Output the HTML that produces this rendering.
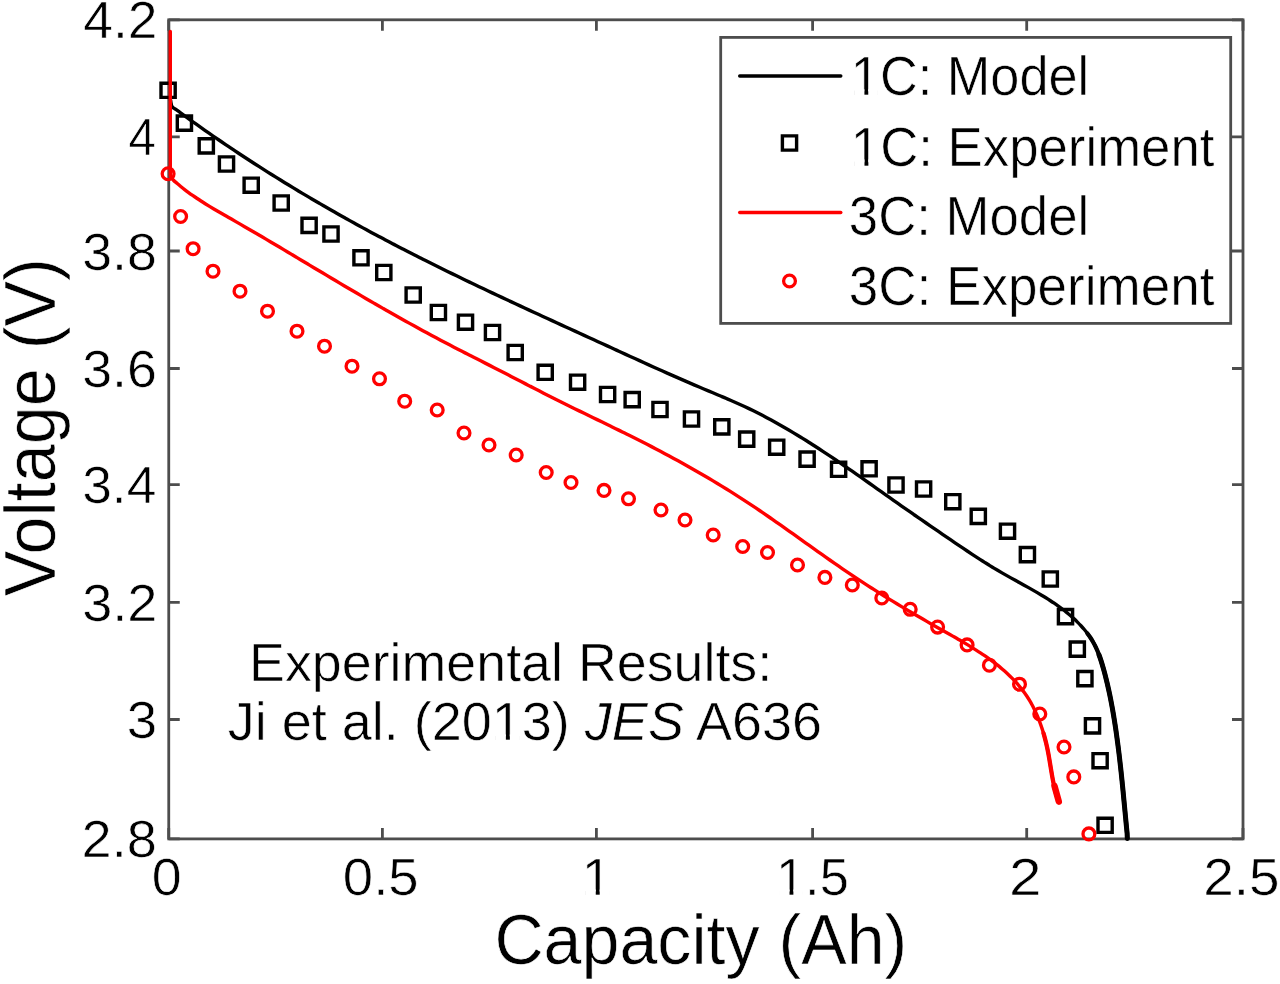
<!DOCTYPE html>
<html><head><meta charset="utf-8"><style>html,body{margin:0;padding:0;background:#fff;overflow:hidden}svg{display:block}text{font-family:"Liberation Sans",sans-serif}</style></head><body>
<svg width="1280" height="984" viewBox="0 0 1280 984" font-family="Liberation Sans, sans-serif">
<rect x="0" y="0" width="1280" height="984" fill="#fff"/>
<g>
<path d="M168.75,838.9V827.9M168.75,19.8V30.8M382.4,838.9V827.9M382.4,19.8V30.8M596.4,838.9V827.9M596.4,19.8V30.8M812.6,838.9V827.9M812.6,19.8V30.8M1026.7,838.9V827.9M1026.7,19.8V30.8M1243,838.9V827.9M1243,19.8V30.8M168.75,19.8H179.75M1243,19.8H1232M168.75,136.9H179.75M1243,136.9H1232M168.75,251H179.75M1243,251H1232M168.75,368.5H179.75M1243,368.5H1232M168.75,484.7H179.75M1243,484.7H1232M168.75,602.3H179.75M1243,602.3H1232M168.75,719.5H179.75M1243,719.5H1232M168.75,838.9H179.75M1243,838.9H1232" stroke="#4d4d4d" stroke-width="2.8" fill="none"/>
<rect x="168.75" y="19.8" width="1074.25" height="819.1" fill="none" stroke="#4d4d4d" stroke-width="2.8"/>
<path d="M170.5,100 C171.0667,102.2667 171.0717,105.1576 172.2,106.8 C173.1424,108.1718 174.8685,108.6496 176.2027,109.6089 C177.5592,110.5843 178.9141,111.6097 180.2722,112.6064 C181.6302,113.6028 182.9897,114.5968 184.3509,115.5882 C185.7119,116.5795 187.0745,117.5682 188.4387,118.5545 C189.8027,119.5406 191.1683,120.5242 192.5355,121.5053 C193.9025,122.4862 195.2711,123.4647 196.6413,124.4407 C198.0112,125.4166 199.3828,126.3899 200.7559,127.3608 C202.1288,128.3316 203.5033,129.2999 204.8794,130.2658 C206.2552,131.2315 207.6326,132.1947 209.0115,133.1556 C210.3903,134.1163 211.7706,135.0745 213.1524,136.0304 C214.534,136.9861 215.9171,137.9393 217.3018,138.8902 C218.6862,139.8409 220.0722,140.7893 221.4597,141.7352 C222.8469,142.681 224.2357,143.6244 225.626,144.5654 C227.0161,145.5063 228.4076,146.4448 229.8007,147.381 C231.1935,148.317 232.5878,149.2507 233.9836,150.182 C235.3792,151.1131 236.7763,152.042 238.1748,152.9684 C239.5731,153.8948 240.9729,154.8188 242.3741,155.7405 C243.7751,156.6621 245.1775,157.5813 246.5814,158.4982 C247.9851,159.4151 249.3902,160.3296 250.7967,161.2418 C252.203,162.1539 253.6108,163.0636 255.0199,163.9711 C256.4289,164.8785 257.8392,165.7836 259.2509,166.6864 C260.6625,167.5892 262.0755,168.4896 263.4897,169.3878 C264.9039,170.2859 266.3194,171.1817 267.7362,172.0752 C269.1529,172.9687 270.5709,173.8599 271.9903,174.7489 C273.4095,175.6378 274.83,176.5245 276.2519,177.4089 C277.6736,178.2932 279.0966,179.1754 280.5209,180.0553 C281.9451,180.9351 283.3706,181.8127 284.7973,182.6881 C286.224,183.5634 287.6519,184.4365 289.0811,185.3075 C290.5101,186.1784 291.9405,187.047 293.372,187.9135 C294.8035,188.78 296.2362,189.6442 297.6701,190.5063 C299.1039,191.3683 300.539,192.2282 301.9753,193.0859 C303.4115,193.9436 304.8489,194.7991 306.2875,195.6524 C307.726,196.5058 309.1657,197.3569 310.6066,198.206 C312.0474,199.055 313.4894,199.9018 314.9325,200.7466 C316.3756,201.5913 317.8199,202.4339 319.2653,203.2744 C320.7106,204.1148 322.1571,204.9532 323.6047,205.7895 C325.0523,206.6257 326.501,207.4598 327.9508,208.2919 C329.4005,209.1239 330.8514,209.9539 332.3034,210.7818 C333.7553,211.6096 335.2083,212.4354 336.6625,213.2592 C338.1165,214.0829 339.5717,214.9045 341.028,215.7242 C342.4842,216.5438 343.9414,217.3614 345.3998,218.1769 C346.8581,218.9924 348.3174,219.8059 349.7779,220.6175 C351.2382,221.4289 352.6996,222.2384 354.1621,223.0459 C355.6245,223.8533 357.088,224.6588 358.5525,225.4623 C360.0169,226.2657 361.4824,227.0672 362.9488,227.8667 C364.4153,228.6662 365.8827,229.4637 367.3512,230.2593 C368.8195,231.0549 370.289,231.8485 371.7594,232.6402 C373.2297,233.4318 374.701,234.2216 376.1734,235.0094 C377.6456,235.7971 379.1189,236.583 380.5931,237.367 C382.0673,238.1509 383.5424,238.9329 385.0185,239.7131 C386.4945,240.4932 387.9715,241.2714 389.4494,242.0477 C390.9273,242.8241 392.4061,243.5985 393.8859,244.3711 C395.3656,245.1437 396.8462,245.9144 398.3278,246.6833 C399.8093,247.4521 401.2917,248.2191 402.775,248.9843 C404.2583,249.7494 405.7425,250.5128 407.2275,251.2744 C408.7126,252.0359 410.1985,252.7957 411.6852,253.5538 C413.172,254.3119 414.6596,255.0683 416.1481,255.823 C417.6365,256.5777 419.1259,257.3307 420.616,258.0822 C422.1061,258.8336 423.5971,259.5834 425.0888,260.3317 C426.5806,261.0799 428.0732,261.8266 429.5666,262.5718 C431.06,263.317 432.5542,264.0606 434.0492,264.8028 C435.5442,265.5451 437.04,266.2858 438.5366,267.0251 C440.0331,267.7645 441.5305,268.5024 443.0286,269.2389 C444.5267,269.9755 446.0256,270.7107 447.5252,271.4446 C449.0249,272.1785 450.5253,272.9111 452.0264,273.6424 C453.5275,274.3738 455.0294,275.1039 456.532,275.8327 C458.0346,276.5617 459.538,277.2893 461.0419,278.0158 C462.546,278.7424 464.0508,279.4677 465.5562,280.192 C467.0617,280.9163 468.5679,281.6394 470.0747,282.3615 C471.5817,283.0837 473.0892,283.8047 474.5974,284.5248 C476.1057,285.2449 477.6146,285.964 479.1241,286.6821 C480.6338,287.4002 482.144,288.1174 483.6548,288.8336 C485.1658,289.55 486.6774,290.2653 488.1895,290.9798 C489.7018,291.6944 491.2146,292.4081 492.728,293.121 C494.2416,293.8339 495.7557,294.546 497.2703,295.2574 C498.7851,295.9688 500.3005,296.6794 501.8163,297.3893 C503.3323,298.0993 504.8489,298.8085 506.3659,299.5171 C507.8831,300.2257 509.4009,300.9337 510.9191,301.641 C512.4375,302.3485 513.9564,303.0552 515.4757,303.7614 C516.9953,304.4678 518.5153,305.1735 520.0357,305.8786 C521.5564,306.584 523.0776,307.2887 524.5991,307.9929 C526.1209,308.6973 527.6431,309.4012 529.1657,310.1046 C530.6886,310.8082 532.2119,311.5113 533.7355,312.214 C535.2595,312.9169 536.7838,313.6193 538.3084,314.3214 C539.8334,315.0237 541.3587,315.7255 542.8843,316.4271 C544.4103,317.1289 545.9366,317.8303 547.4632,318.5315 C548.9902,319.2328 550.5174,319.9339 552.045,320.6348 C553.5729,321.3358 555.1011,322.0366 556.6295,322.7373 C558.1583,323.4382 559.6874,324.1388 561.2168,324.8394 C562.7465,325.5401 564.2765,326.2407 565.8067,326.9413 C567.3373,327.6421 568.8682,328.3427 570.3992,329.0434 C571.9307,329.7443 573.4623,330.4451 574.9942,331.146 C576.5265,331.8471 578.059,332.5482 579.5917,333.2494 C581.1247,333.9508 582.658,334.6522 584.1914,335.3539 C585.7253,336.0557 587.2593,336.7576 588.7935,337.4597 C590.3281,338.1621 591.8629,338.8646 593.3978,339.5673 C594.9331,340.2703 596.4685,340.9734 598.0041,341.6769 C599.5402,342.3806 601.0763,343.0846 602.6126,343.7888 C604.1492,344.4932 605.686,345.1979 607.2228,345.9027 C608.7599,346.6075 610.2972,347.3126 611.8345,348.0175 C613.372,348.7225 614.9096,349.4276 616.4473,350.1323 C617.985,350.8371 619.5228,351.5418 621.0607,352.2461 C622.5986,352.9504 624.1365,353.6544 625.6745,354.3579 C627.2123,355.0613 628.7502,355.7643 630.2882,356.4666 C631.8259,357.1688 633.3636,357.8705 634.9015,358.5713 C636.4388,359.272 637.9763,359.972 639.5139,360.671 C641.0509,361.3697 642.588,362.0678 644.1251,362.7646 C645.6616,363.4612 647.1981,364.1568 648.7347,364.8512 C650.2706,365.5452 651.8064,366.2382 653.3424,366.9297 C654.8774,367.6208 656.4126,368.3108 657.9477,368.9991 C659.4819,369.687 661.0161,370.3736 662.5503,371.0585 C664.0834,371.7429 665.6166,372.4258 667.1498,373.1068 C668.6818,373.7873 670.2138,374.4662 671.7458,375.143 C673.2765,375.8193 674.8072,376.4938 676.338,377.1662 C677.8673,377.8379 679.3966,378.5078 680.9259,379.1753 C682.4537,379.8421 683.9814,380.5069 685.5092,381.1692 C687.0353,381.8309 688.5614,382.4903 690.0875,383.1471 C691.6118,383.8032 693.1361,384.4569 694.6604,385.1079 C696.1828,385.7581 697.7052,386.4057 699.2276,387.0506 C700.748,387.6946 702.2685,388.3353 703.7886,388.9748 C705.307,389.6135 706.8254,390.2491 708.3431,390.8851 C709.8595,391.5205 711.3756,392.1539 712.8907,392.7888 C714.4049,393.4232 715.9186,394.0568 717.4311,394.693 C718.943,395.329 720.4541,395.9652 721.9638,396.6051 C723.4732,397.2449 724.9817,397.8862 726.4884,398.5322 C727.9953,399.1783 729.501,399.827 731.0047,400.4816 C732.5089,401.1364 734.0117,401.7949 735.5122,402.4604 C737.0136,403.1263 738.5133,403.7971 740.0104,404.4759 C741.509,405.1554 743.0055,405.8408 744.4992,406.5354 C745.9947,407.2308 747.4879,407.9335 748.978,408.646 C750.4704,409.3596 751.9599,410.0823 753.4465,410.8137 C754.9354,411.5463 756.4213,412.2883 757.9043,413.0383 C759.3895,413.7894 760.8717,414.5494 762.3511,415.3171 C763.8324,416.0859 765.3108,416.8633 766.7864,417.6479 C768.2638,418.4336 769.7383,419.2275 771.2099,420.0283 C772.6832,420.83 774.1536,421.6395 775.6211,422.4557 C777.0903,423.2727 778.5565,424.0971 780.0198,424.9278 C781.4846,425.7592 782.9465,426.5977 784.4056,427.4421 C785.8659,428.2872 787.3233,429.139 788.778,429.9963 C790.2337,430.8542 791.6865,431.7184 793.1366,432.5878 C794.5876,433.4578 796.0358,434.3336 797.4812,435.2144 C798.9273,436.0955 800.3707,436.9822 801.8113,437.8735 C803.2524,438.765 804.6908,439.6617 806.1266,440.5627 C807.5626,441.4638 808.9959,442.3698 810.4266,443.2796 C811.8573,444.1895 813.2854,445.1039 814.7109,446.0219 C816.1363,446.9397 817.5591,447.8617 818.9793,448.787 C820.3992,449.712 821.8165,450.6408 823.2313,451.5725 C824.6456,452.5039 826.0573,453.4387 827.4666,454.3761 C828.8751,455.313 830.2811,456.253 831.6847,457.1953 C833.0875,458.137 834.4877,459.0814 835.8858,460.028 C837.283,460.9739 838.6779,461.9224 840.0708,462.8727 C841.4628,463.8224 842.8526,464.7744 844.2407,465.728 C845.6279,466.681 847.0131,467.6361 848.3966,468.5925 C849.7794,469.5483 851.1602,470.506 852.5397,471.4648 C853.9183,472.423 855.2951,473.3828 856.6708,474.3435 C858.0456,475.3036 859.4189,476.265 860.7911,477.2271 C862.1626,478.1887 863.5326,479.1513 864.9017,480.1143 C866.2701,481.0768 867.6372,482.0402 869.0036,483.0037 C870.3693,483.9667 871.7339,484.9303 873.0979,485.8938 C874.4612,486.8568 875.8236,487.8202 877.1856,488.7833 C878.5469,489.7458 879.9074,490.7085 881.2678,491.6707 C882.6274,492.6323 883.9865,493.5938 885.3456,494.5546 C886.7039,495.5148 888.0618,496.4747 889.4199,497.4336 C890.7773,498.392 892.1344,499.3498 893.4919,500.3063 C894.8487,501.2623 896.2054,502.2176 897.5627,503.1713 C898.9192,504.1245 900.2759,505.0766 901.6332,506.0272 C902.9899,506.9774 904.347,507.9262 905.7046,508.8739 C907.0619,509.8212 908.4196,510.7673 909.7779,511.7124 C911.1361,512.6574 912.4948,513.6013 913.8542,514.5443 C915.2136,515.4874 916.5737,516.4295 917.9345,517.371 C919.2956,518.3126 920.6573,519.2534 922.0199,520.1937 C923.3829,521.1343 924.7467,522.0742 926.1114,523.0138 C927.4768,523.9539 928.843,524.8934 930.2101,525.8327 C931.5782,526.7728 932.9472,527.7123 934.3171,528.6519 C935.6883,529.5923 937.0603,530.5323 938.4334,531.4726 C939.808,532.4138 941.1835,533.3548 942.5601,534.2962 C943.9384,535.2387 945.3177,536.1812 946.6983,537.1241 C948.0807,538.0683 949.464,539.0131 950.8489,539.9576 C952.2357,540.9033 953.6234,541.8497 955.0131,542.7947 C956.4044,543.7408 957.7971,544.6869 959.192,545.6309 C960.5882,546.5758 961.9861,547.5199 963.3865,548.4612 C964.788,549.4033 966.1914,550.3439 967.5977,551.2809 C969.0049,552.2184 970.4143,553.1538 971.8268,554.0849 C973.2399,555.0164 974.6556,555.945 976.0747,556.8686 C977.4942,557.7924 978.9165,558.7125 980.3425,559.6269 C981.7687,560.5414 983.1981,561.4516 984.6313,562.3551 C986.0646,563.2587 987.5013,564.1572 988.9422,565.0484 C990.3829,565.9395 991.8273,566.8247 993.2761,567.7018 C994.7246,568.5787 996.1771,569.449 997.6342,570.3105 C999.0909,571.1717 1000.5523,572.0244 1002.0174,572.8699 C1003.4819,573.715 1004.9517,574.5506 1006.423,575.3823 C1007.8938,576.2136 1009.3685,577.0372 1010.8437,577.8588 C1012.3182,578.6801 1013.7954,579.4955 1015.2719,580.3111 C1016.7475,581.1262 1018.2248,581.9374 1019.7001,582.7508 C1021.1744,583.5636 1022.6491,584.3745 1024.1207,585.1895 C1025.591,586.0038 1027.0607,586.8183 1028.526,587.6388 C1029.99,588.4586 1031.4521,589.2805 1032.9086,590.1104 C1034.3638,590.9395 1035.8158,591.7727 1037.2609,592.6159 C1038.7047,593.4582 1040.1441,594.3066 1041.5753,595.1669 C1043.0052,596.0263 1044.4295,596.8938 1045.8443,597.775 C1047.2578,598.6555 1048.6645,599.5459 1050.0602,600.452 C1051.4549,601.3574 1052.8415,602.2747 1054.2155,603.2094 C1055.589,604.1436 1056.9528,605.0916 1058.3027,606.0588 C1059.6524,607.0258 1060.9911,608.0084 1062.3141,609.0118 C1063.6376,610.0156 1064.9486,611.0367 1066.2422,612.0802 C1067.537,613.1246 1068.8178,614.1882 1070.0795,615.2755 C1071.3432,616.3645 1072.5911,617.4744 1073.8183,618.6093 C1075.0484,619.7469 1076.2618,620.9073 1077.451,622.0933 C1078.6431,623.2823 1079.8187,624.4957 1080.9619,625.7345 C1082.1051,626.9734 1083.2274,628.2371 1084.3102,629.5262 C1085.3902,630.8121 1086.4438,632.123 1087.4507,633.4592 C1088.4528,634.7893 1089.4227,636.1444 1090.3382,637.5243 C1091.2481,638.8957 1092.114,640.2934 1092.9287,641.7123 C1093.7391,643.1235 1094.4964,644.5608 1095.2151,646.0139 C1095.932,647.4635 1096.5997,648.9354 1097.236,650.42 C1097.8722,651.9045 1098.4647,653.4079 1099.0327,654.9214 C1099.6017,656.4374 1100.1328,657.9691 1100.6465,659.5088 C1101.1617,661.0529 1101.6455,662.6098 1102.1188,664.173 C1102.5938,665.7418 1103.0455,667.3208 1103.4909,668.9048 C1103.9379,670.4951 1104.3714,672.0929 1104.7956,673.6959 C1105.2213,675.3046 1105.6357,676.92 1106.0403,678.5401 C1106.4462,680.1653 1106.8413,681.7965 1107.2271,683.4318 C1107.614,685.0717 1107.9906,686.7169 1108.3584,688.3656 C1108.727,690.0181 1109.0858,691.6754 1109.4363,693.3357 C1109.7874,694.9991 1110.1292,696.6667 1110.4631,698.3367 C1110.7975,700.0091 1111.123,701.685 1111.4411,703.3628 C1111.7595,705.0424 1112.0695,706.7249 1112.3725,708.4087 C1112.6756,710.0935 1112.9709,711.7807 1113.2596,713.4686 C1113.5483,715.1568 1113.8295,716.8468 1114.1046,718.537 C1114.3795,720.2266 1114.6475,721.9176 1114.9098,723.6083 C1115.1718,725.2976 1115.4272,726.9876 1115.6774,728.6769 C1115.9272,730.3639 1116.1709,732.0512 1116.4097,733.7372 C1116.6481,735.4202 1116.8807,737.1029 1117.1089,738.7837 C1117.3366,740.4607 1117.559,742.1367 1117.7774,743.8108 C1117.9951,745.4803 1118.2081,747.1481 1118.4173,748.8145 C1118.6259,750.4769 1118.8301,752.1375 1119.0308,753.7971 C1119.2311,755.4532 1119.4273,757.1078 1119.6204,758.7616 C1119.8131,760.4126 1120.002,762.0623 1120.1881,763.7114 C1120.374,765.3583 1120.5564,767.0041 1120.7363,768.6497 C1120.916,770.2935 1121.0927,771.9366 1121.2672,773.5797 C1121.4416,775.2216 1121.6132,776.8631 1121.7831,778.5047 C1121.9528,780.1458 1122.1202,781.7866 1122.2861,783.4279 C1122.4521,785.0693 1122.6159,786.7106 1122.7787,788.3526 C1122.9415,789.9953 1123.1026,791.6382 1123.2629,793.282 C1123.4234,794.9271 1123.5825,796.5726 1123.7412,798.2194 C1123.9,799.868 1124.0578,801.5173 1124.2156,803.168 C1124.3736,804.8211 1124.5309,806.4752 1124.6886,808.1311 C1124.8465,809.7898 1125.004,811.4499 1125.1622,813.1118 C1125.3208,814.7773 1125.4793,816.4443 1125.6389,818.1136 C1125.7988,819.7869 1125.9591,821.4619 1126.1208,823.1395 C1126.2829,824.8217 1126.4457,826.5059 1126.6102,828.1928 C1126.7752,829.885 1126.9943,831.5772 1127.1093,833.2768 C1127.2244,834.9795 1127.2364,836.6923 1127.3,838.4" stroke="#000" stroke-width="3.4" fill="none" stroke-linejoin="round" stroke-linecap="round"/>
<path d="M1087.4507,633.4592 C1088.4528,634.7893 1089.4227,636.1444 1090.3382,637.5243 C1091.2481,638.8957 1092.114,640.2934 1092.9287,641.7123 C1093.7391,643.1235 1094.4964,644.5608 1095.2151,646.0139 C1095.932,647.4635 1096.5997,648.9354 1097.236,650.42 C1097.8722,651.9045 1098.4647,653.4079 1099.0327,654.9214 C1099.6017,656.4374 1100.1328,657.9691 1100.6465,659.5088 C1101.1617,661.0529 1101.6455,662.6098 1102.1188,664.173 C1102.5938,665.7418 1103.0455,667.3208 1103.4909,668.9048 C1103.9379,670.4951 1104.3714,672.0929 1104.7956,673.6959 C1105.2213,675.3046 1105.6357,676.92 1106.0403,678.5401 C1106.4462,680.1653 1106.8413,681.7965 1107.2271,683.4318 C1107.614,685.0717 1107.9906,686.7169 1108.3584,688.3656 C1108.727,690.0181 1109.0858,691.6754 1109.4363,693.3357 C1109.7874,694.9991 1110.1292,696.6667 1110.4631,698.3367 C1110.7975,700.0091 1111.123,701.685 1111.4411,703.3628 C1111.7595,705.0424 1112.0695,706.7249 1112.3725,708.4087 C1112.6756,710.0935 1112.9709,711.7807 1113.2596,713.4686 C1113.5483,715.1568 1113.8295,716.8468 1114.1046,718.537 C1114.3795,720.2266 1114.6475,721.9176 1114.9098,723.6083 C1115.1718,725.2976 1115.4272,726.9876 1115.6774,728.6769 C1115.9272,730.3639 1116.1709,732.0512 1116.4097,733.7372 C1116.6481,735.4202 1116.8807,737.1029 1117.1089,738.7837 C1117.3366,740.4607 1117.559,742.1367 1117.7774,743.8108 C1117.9951,745.4803 1118.2081,747.1481 1118.4173,748.8145 C1118.6259,750.4769 1118.8301,752.1375 1119.0308,753.7971 C1119.2311,755.4532 1119.4273,757.1078 1119.6204,758.7616 C1119.8131,760.4126 1120.002,762.0623 1120.1881,763.7114 C1120.374,765.3583 1120.5564,767.0041 1120.7363,768.6497 C1120.916,770.2935 1121.0927,771.9366 1121.2672,773.5797 C1121.4416,775.2216 1121.6132,776.8631 1121.7831,778.5047 C1121.9528,780.1458 1122.1202,781.7866 1122.2861,783.4279 C1122.4521,785.0693 1122.6159,786.7106 1122.7787,788.3526 C1122.9415,789.9953 1123.1026,791.6382 1123.2629,793.282 C1123.4234,794.9271 1123.5825,796.5726 1123.7412,798.2194 C1123.9,799.868 1124.0578,801.5173 1124.2156,803.168 C1124.3736,804.8211 1124.5309,806.4752 1124.6886,808.1311 C1124.8465,809.7898 1125.004,811.4499 1125.1622,813.1118 C1125.3208,814.7773 1125.4793,816.4443 1125.6389,818.1136 C1125.7988,819.7869 1125.9591,821.4619 1126.1208,823.1395 C1126.2829,824.8217 1126.4457,826.5059 1126.6102,828.1928 C1126.7752,829.885 1126.9943,831.5772 1127.1093,833.2768 C1127.2244,834.9795 1127.2364,836.6923 1127.3,838.4" stroke="#000" stroke-width="4.2" fill="none" stroke-linecap="round" stroke-linejoin="round"/>
<path d="M1099.0327,654.9214 C1099.6017,656.4374 1100.1328,657.9691 1100.6465,659.5088 C1101.1617,661.0529 1101.6455,662.6098 1102.1188,664.173 C1102.5938,665.7418 1103.0455,667.3208 1103.4909,668.9048 C1103.9379,670.4951 1104.3714,672.0929 1104.7956,673.6959 C1105.2213,675.3046 1105.6357,676.92 1106.0403,678.5401 C1106.4462,680.1653 1106.8413,681.7965 1107.2271,683.4318 C1107.614,685.0717 1107.9906,686.7169 1108.3584,688.3656 C1108.727,690.0181 1109.0858,691.6754 1109.4363,693.3357 C1109.7874,694.9991 1110.1292,696.6667 1110.4631,698.3367 C1110.7975,700.0091 1111.123,701.685 1111.4411,703.3628 C1111.7595,705.0424 1112.0695,706.7249 1112.3725,708.4087 C1112.6756,710.0935 1112.9709,711.7807 1113.2596,713.4686 C1113.5483,715.1568 1113.8295,716.8468 1114.1046,718.537 C1114.3795,720.2266 1114.6475,721.9176 1114.9098,723.6083 C1115.1718,725.2976 1115.4272,726.9876 1115.6774,728.6769 C1115.9272,730.3639 1116.1709,732.0512 1116.4097,733.7372 C1116.6481,735.4202 1116.8807,737.1029 1117.1089,738.7837 C1117.3366,740.4607 1117.559,742.1367 1117.7774,743.8108 C1117.9951,745.4803 1118.2081,747.1481 1118.4173,748.8145 C1118.6259,750.4769 1118.8301,752.1375 1119.0308,753.7971 C1119.2311,755.4532 1119.4273,757.1078 1119.6204,758.7616 C1119.8131,760.4126 1120.002,762.0623 1120.1881,763.7114 C1120.374,765.3583 1120.5564,767.0041 1120.7363,768.6497 C1120.916,770.2935 1121.0927,771.9366 1121.2672,773.5797 C1121.4416,775.2216 1121.6132,776.8631 1121.7831,778.5047 C1121.9528,780.1458 1122.1202,781.7866 1122.2861,783.4279 C1122.4521,785.0693 1122.6159,786.7106 1122.7787,788.3526 C1122.9415,789.9953 1123.1026,791.6382 1123.2629,793.282 C1123.4234,794.9271 1123.5825,796.5726 1123.7412,798.2194 C1123.9,799.868 1124.0578,801.5173 1124.2156,803.168 C1124.3736,804.8211 1124.5309,806.4752 1124.6886,808.1311 C1124.8465,809.7898 1125.004,811.4499 1125.1622,813.1118 C1125.3208,814.7773 1125.4793,816.4443 1125.6389,818.1136 C1125.7988,819.7869 1125.9591,821.4619 1126.1208,823.1395 C1126.2829,824.8217 1126.4457,826.5059 1126.6102,828.1928 C1126.7752,829.885 1126.9943,831.5772 1127.1093,833.2768 C1127.2244,834.9795 1127.2364,836.6923 1127.3,838.4" stroke="#000" stroke-width="5.0" fill="none" stroke-linecap="round" stroke-linejoin="round"/>
<path d="M161,83.2h14.2v14.2h-14.2zM177.3,116h14.2v14.2h-14.2zM199.2,138.8h14.2v14.2h-14.2zM219.4,156.9h14.2v14.2h-14.2zM244.1,178.1h14.2v14.2h-14.2zM274.1,195.9h14.2v14.2h-14.2zM302,218.3h14.2v14.2h-14.2zM323.9,226.9h14.2v14.2h-14.2zM353.9,250.7h14.2v14.2h-14.2zM376.7,265.4h14.2v14.2h-14.2zM406.1,287.9h14.2v14.2h-14.2zM431.3,305.4h14.2v14.2h-14.2zM458.4,315.1h14.2v14.2h-14.2zM485.4,325.4h14.2v14.2h-14.2zM508.1,345.4h14.2v14.2h-14.2zM538.1,365.2h14.2v14.2h-14.2zM570.5,375.1h14.2v14.2h-14.2zM600.5,387.4h14.2v14.2h-14.2zM625.1,392.5h14.2v14.2h-14.2zM652.9,402.4h14.2v14.2h-14.2zM684.4,411.9h14.2v14.2h-14.2zM714.7,419.8h14.2v14.2h-14.2zM739.6,432h14.2v14.2h-14.2zM769.6,440.1h14.2v14.2h-14.2zM800,452h14.2v14.2h-14.2zM831.5,462.2h14.2v14.2h-14.2zM862,461.7h14.2v14.2h-14.2zM888.9,477.9h14.2v14.2h-14.2zM916.5,481.9h14.2v14.2h-14.2zM945.7,494.6h14.2v14.2h-14.2zM971.2,509.3h14.2v14.2h-14.2zM1000.4,524.1h14.2v14.2h-14.2zM1020.3,547.5h14.2v14.2h-14.2zM1043.2,571.9h14.2v14.2h-14.2zM1058.4,609.5h14.2v14.2h-14.2zM1070.2,642h14.2v14.2h-14.2zM1077.8,671.5h14.2v14.2h-14.2zM1085.4,718.8h14.2v14.2h-14.2zM1093,753.6h14.2v14.2h-14.2zM1098,818.2h14.2v14.2h-14.2z" stroke="#000" stroke-width="3.4" fill="none" stroke-linejoin="miter"/>
<path d="M170.3,31.5 L170.3,176 C171.289,177.3316 172.1565,178.7778 173.267,179.9949 C174.3738,181.208 175.7046,182.2127 176.9494,183.293 C178.1951,184.374 179.4598,185.4346 180.7384,186.4787 C182.0184,187.5239 183.3157,188.5498 184.6254,189.5607 C185.9368,190.5729 187.2639,191.5671 188.602,192.5477 C189.9419,193.5296 191.296,194.495 192.6596,195.4482 C194.0252,196.4029 195.4034,197.3423 196.7897,198.2711 C198.1781,199.2013 199.5776,200.1177 200.984,201.0249 C202.3923,201.9335 203.8102,202.8297 205.2338,203.7184 C206.6591,204.6082 208.0927,205.4872 209.5306,206.3602 C210.9701,207.2341 212.4166,208.0988 213.8661,208.959 C215.3169,209.8199 216.7734,210.6731 218.2317,211.5234 C219.691,212.3742 221.1546,213.2188 222.619,214.0621 C224.0838,214.9057 225.5518,215.7447 227.0193,216.5839 C228.4869,217.4231 229.9564,218.2593 231.4243,219.0973 C232.8918,219.935 234.3597,220.7718 235.8255,221.611 C237.2905,222.4498 238.7543,223.2898 240.2167,224.1312 C241.6784,224.9723 243.1388,225.8147 244.598,226.6584 C246.0564,227.5017 247.5136,228.3463 248.9698,229.1921 C250.4252,230.0374 251.8795,230.8841 253.3328,231.7318 C254.7855,232.5791 256.237,233.4276 257.6876,234.277 C259.1377,235.1261 260.5868,235.9764 262.035,236.8274 C263.4827,237.6782 264.9295,238.53 266.3755,239.3826 C267.8211,240.2348 269.2657,241.088 270.7098,241.9419 C272.1534,242.7956 273.5962,243.65 275.0384,244.5051 C276.4803,245.3599 277.9215,246.2155 279.3621,247.0716 C280.8025,247.9275 282.2422,248.7841 283.6815,249.6411 C285.1206,250.4979 286.559,251.3553 287.9972,252.213 C289.4352,253.0706 290.8726,253.9287 292.3099,254.787 C293.747,255.6452 295.1836,256.5038 296.6201,257.3626 C298.0565,258.2212 299.4926,259.0802 300.9286,259.9392 C302.3646,260.7982 303.8003,261.6575 305.236,262.5166 C306.6717,263.3758 308.1072,264.2351 309.5429,265.0943 C310.9785,265.9535 312.4141,266.8127 313.8499,267.6717 C315.2857,268.5308 316.7216,269.3898 318.1577,270.2486 C319.594,271.1073 321.0303,271.966 322.467,272.8243 C323.9038,273.6827 325.3408,274.5408 326.7783,275.3985 C328.2159,276.2563 329.6538,277.1138 331.0923,277.9707 C332.5309,278.8278 333.97,279.6845 335.4096,280.5406 C336.8495,281.3968 338.2899,282.2525 339.7309,283.1075 C341.1723,283.9627 342.6142,284.8174 344.0569,285.6712 C345.4999,286.5252 346.9435,287.3786 348.388,288.2311 C349.833,289.0838 351.2786,289.9358 352.7251,290.7868 C354.172,291.638 355.6197,292.4884 357.0682,293.3378 C358.5171,294.1874 359.9668,295.036 361.4173,295.8836 C362.8681,296.7313 364.3197,297.578 365.7722,298.4236 C367.225,299.2693 368.6785,300.1139 370.1329,300.9573 C371.5875,301.8007 373.043,302.6431 374.4993,303.4841 C375.9557,304.3252 377.413,305.165 378.8712,306.0035 C380.3295,306.842 381.7886,307.6793 383.2486,308.515 C384.7086,309.3508 386.1695,310.1852 387.6313,311.018 C389.0931,311.8509 390.5557,312.6823 392.0192,313.512 C393.4827,314.3417 394.9471,315.17 396.4123,315.9965 C397.8775,316.8229 399.3435,317.6478 400.8105,318.4708 C402.2773,319.2938 403.745,320.1151 405.2135,320.9345 C406.682,321.7538 408.1513,322.5714 409.6215,323.387 C411.0914,324.2025 412.5623,325.0162 414.0341,325.8279 C415.5056,326.6394 416.978,327.449 418.4513,328.2564 C419.9244,329.0637 421.3983,329.8691 422.8731,330.6722 C424.3476,331.4751 425.823,332.276 427.2993,333.0746 C428.7752,333.873 430.2521,334.6693 431.7298,335.4632 C433.2072,336.2569 434.6854,337.0483 436.1646,337.8374 C437.6432,338.6261 439.1228,339.4126 440.6034,340.1965 C442.0834,340.9802 443.5643,341.7615 445.0462,342.5402 C446.5275,343.3187 448.0098,344.0946 449.493,344.8679 C450.9756,345.6409 452.4591,346.4111 453.9435,347.1794 C455.4274,347.9473 456.9123,348.7126 458.3978,349.4765 C459.8829,350.2402 461.369,351.0016 462.8556,351.762 C464.342,352.5223 465.8292,353.2808 467.3169,354.0386 C468.8046,354.7965 470.2929,355.5529 471.7816,356.309 C473.2705,357.0653 474.7599,357.8205 476.2496,358.5759 C477.7396,359.3315 479.2301,360.0865 480.7208,360.8421 C482.2119,361.5979 483.7034,362.3535 485.195,363.1101 C486.6873,363.867 488.1798,364.6241 489.6722,365.3827 C491.1655,366.1417 492.659,366.9012 494.1523,367.6626 C495.6466,368.4245 497.141,369.1875 498.6351,369.9525 C500.1304,370.7182 501.6256,371.4857 503.1206,372.2547 C504.6168,373.0242 506.1127,373.7956 507.6087,374.5678 C509.1056,375.3404 510.6024,376.1147 512.0992,376.8893 C513.5968,377.6642 515.0944,378.4403 516.5921,379.2164 C518.0904,379.9928 519.5887,380.7699 521.0872,381.5467 C522.5861,382.3236 524.0851,383.1009 525.5845,383.8774 C527.084,384.6539 528.5837,385.4305 530.0838,386.2059 C531.5839,386.9812 533.0842,387.7562 534.5851,388.5295 C536.0857,389.3028 537.5866,390.0752 539.0882,390.8457 C540.5893,391.616 542.0908,392.3851 543.593,393.1519 C545.0946,393.9183 546.5966,394.6831 548.0995,395.4452 C549.6015,396.2069 551.1041,396.9664 552.6074,397.7233 C554.1099,398.4798 555.6131,399.2336 557.1167,399.9854 C558.6196,400.7369 560.1231,401.4858 561.627,402.2331 C563.1301,402.98 564.6338,403.7247 566.1378,404.4679 C567.6412,405.2108 569.145,405.9517 570.649,406.6915 C572.1524,407.4309 573.6561,408.1686 575.16,408.9054 C576.6634,409.6419 578.167,410.377 579.6707,411.1113 C581.1738,411.8455 582.6772,412.5784 584.1805,413.3109 C585.6834,414.0431 587.1864,414.7744 588.6893,415.5056 C590.1917,416.2365 591.6942,416.9668 593.1965,417.6971 C594.6985,418.4273 596.2004,419.157 597.702,419.8871 C599.2033,420.617 600.7045,421.3467 602.2052,422.0771 C603.7058,422.8073 605.2061,423.5376 606.706,424.2687 C608.2057,424.9998 609.7051,425.7311 611.2039,426.4636 C612.7026,427.196 614.201,427.929 615.6986,428.6634 C617.1962,429.3977 618.6934,430.1328 620.1898,430.8696 C621.6862,431.6064 623.182,432.3442 624.677,433.0839 C626.1721,433.8237 627.6665,434.5648 629.16,435.308 C630.6536,436.0512 632.1465,436.7961 633.6384,437.5433 C635.1305,438.2906 636.6217,439.0398 638.1118,439.7916 C639.6022,440.5435 641.0917,441.2975 642.58,442.0544 C644.0686,442.8114 645.5562,443.5708 647.0425,444.3333 C648.5292,445.096 650.0148,445.8614 651.499,446.63 C652.9837,447.3988 654.4672,448.1706 655.9492,448.9455 C657.4317,449.7207 658.9129,450.4989 660.3927,451.2802 C661.8729,452.0618 663.3518,452.8464 664.8292,453.6342 C666.307,454.4223 667.7834,455.2135 669.2583,456.0079 C670.7335,456.8025 672.2074,457.6003 673.6796,458.4013 C675.1522,459.2026 676.6234,460.0071 678.0929,460.8149 C679.5628,461.6228 681.0311,462.4341 682.4978,463.2487 C683.9648,464.0635 685.4302,464.8815 686.8939,465.703 C688.3579,466.5246 689.8202,467.3496 691.2808,468.178 C692.7417,469.0066 694.2009,469.8386 695.6583,470.6741 C697.116,471.5097 698.5719,472.3487 700.026,473.1913 C701.4804,474.034 702.9329,474.8802 704.3835,475.7299 C705.8344,476.5798 707.2835,477.4332 708.7306,478.2902 C710.1779,479.1474 711.6233,480.0081 713.0667,480.8724 C714.5104,481.7369 715.9521,482.605 717.3917,483.4767 C718.8315,484.3486 720.2694,485.2241 721.7051,486.1033 C723.141,486.9827 724.5749,487.8657 726.0066,488.7525 C727.4385,489.6395 728.8683,490.5301 730.2958,491.4245 C731.7236,492.3191 733.1492,493.2174 734.5725,494.1195 C735.996,495.0218 737.4173,495.9279 738.8362,496.8378 C740.2553,497.7479 741.6722,498.6617 743.0866,499.5795 C744.5012,500.4975 745.9136,501.4193 747.3234,502.345 C748.7334,503.2709 750.141,504.2008 751.5462,505.1343 C752.9516,506.068 754.3544,507.0059 755.7552,507.9468 C757.1562,508.8879 758.5547,509.8328 759.9513,510.7805 C761.3481,511.7283 762.7426,512.6796 764.1353,513.6334 C765.5282,514.5872 766.9189,515.5443 768.3082,516.5035 C769.6974,517.4627 771.0847,518.4247 772.4706,519.3887 C773.8566,520.3526 775.2407,521.319 776.6237,522.287 C778.0066,523.2549 779.3879,524.2251 780.7682,525.1965 C782.1483,526.1677 783.527,527.1409 784.9049,528.115 C786.2826,529.089 787.6591,530.0645 789.0349,531.0407 C790.4104,532.0167 791.7849,532.9939 793.1588,533.9714 C794.5325,534.9488 795.9053,535.927 797.2777,536.9053 C798.6498,537.8832 800.0212,538.8618 801.3924,539.8401 C802.7632,540.8181 804.1335,541.7964 805.5038,542.774 C806.8735,543.7513 808.243,544.7286 809.6126,545.7049 C810.9817,546.6808 812.3506,547.6565 813.7199,548.6308 C815.0886,549.6047 816.4573,550.578 817.8265,551.5497 C819.195,552.5209 820.5638,553.4912 821.9332,554.4596 C823.3019,555.4275 824.671,556.394 826.041,557.3584 C827.4102,558.3222 828.7799,559.2845 830.1507,560.2442 C831.5206,561.2033 832.8912,562.1605 834.2631,563.1149 C835.6341,564.0686 837.0059,565.0202 838.3792,565.9685 C839.7515,566.9162 841.1249,567.8614 842.4998,568.8031 C843.8738,569.744 845.2489,570.6821 846.6258,571.6165 C848.0017,572.55 849.379,573.4803 850.7581,574.4067 C852.1362,575.3325 853.516,576.2545 854.8976,577.173 C856.2783,578.091 857.6607,579.0053 859.045,579.9162 C860.4287,580.8268 861.8141,581.7338 863.2014,582.6376 C864.5882,583.5411 865.9769,584.4412 867.3675,585.3383 C868.7578,586.2351 870.15,587.1287 871.5442,588.0193 C872.9384,588.91 874.3344,589.7974 875.7325,590.682 C877.1307,591.5668 878.5309,592.4485 879.9331,593.3275 C881.3357,594.2068 882.7403,595.0831 884.147,595.9569 C885.5543,596.831 886.9636,597.7024 888.375,598.5714 C889.7873,599.4408 891.2016,600.3076 892.6181,601.1721 C894.0356,602.0372 895.4552,602.8997 896.877,603.7602 C898.3,604.6213 899.7252,605.4801 901.1526,606.3368 C902.5815,607.1944 904.0126,608.0498 905.4459,608.9032 C906.8809,609.7577 908.3181,610.6099 909.7577,611.4605 C911.1991,612.3121 912.6428,613.1618 914.0889,614.0098 C915.537,614.859 916.9874,615.7064 918.4403,616.5523 C919.8954,617.3995 921.3529,618.245 922.8128,619.0892 C924.2752,619.9347 925.74,620.7787 927.2073,621.6215 C928.6773,622.4659 930.1497,623.3087 931.6247,624.1506 C933.1026,624.994 934.583,625.8361 936.0658,626.6775 C937.5517,627.5205 939.0408,628.3617 940.5308,629.2037 C942.0233,630.0472 943.5187,630.8895 945.0135,631.7341 C946.5101,632.5798 948.0084,633.4255 949.5049,634.2748 C951.0026,635.1247 952.5008,635.9759 953.996,636.8319 C955.4917,637.6882 956.9868,638.5469 958.4778,639.4118 C959.9685,640.2765 961.4575,641.1448 962.9411,642.0205 C964.424,642.8957 965.9038,643.7757 967.3771,644.6643 C968.849,645.5521 970.3167,646.4459 971.7766,647.3495 C973.2346,648.2518 974.6872,649.1615 976.1306,650.0821 C977.5717,651.0011 979.0062,651.9287 980.4302,652.8684 C981.8513,653.8062 983.2647,654.7538 984.6661,655.7146 C986.0644,656.6733 987.4537,657.6429 988.8295,658.6269 C990.202,659.6086 991.5641,660.6023 992.9112,661.6115 C994.2549,662.6183 995.5869,663.6381 996.9023,664.6747 C998.2143,665.7085 999.5131,666.7567 1000.7937,667.8225 C1002.071,668.8856 1003.3336,669.9641 1004.5763,671.0612 C1005.8161,672.1557 1007.0395,673.2666 1008.2412,674.3971 C1009.4404,675.525 1010.6216,676.6705 1011.7793,677.8362 C1012.935,678.9998 1014.0709,680.1819 1015.1816,681.3849 C1016.2908,682.5863 1017.3785,683.807 1018.439,685.0492 C1019.4987,686.2906 1020.5352,687.5521 1021.5425,688.8355 C1022.5499,690.119 1023.5319,691.4234 1024.4831,692.7499 C1025.4351,694.0777 1026.3589,695.4278 1027.2517,696.7986 C1028.1461,698.1718 1029.0095,699.5682 1029.8443,700.9821 C1030.6809,702.399 1031.4869,703.8374 1032.2654,705.2912 C1033.0458,706.7484 1033.7964,708.2251 1034.5205,709.7155 C1035.2463,711.2096 1035.9433,712.7212 1036.6149,714.2449 C1037.288,715.7722 1037.9333,717.3153 1038.5541,718.8689 C1039.1762,720.426 1039.7716,721.9971 1040.3435,723.5773 C1040.9165,725.1607 1041.4637,726.7564 1041.9885,728.3598 C1042.5142,729.9659 1043.0152,731.5828 1043.4947,733.206 C1043.9748,734.8314 1044.4313,736.466 1044.8674,738.1058 C1045.3038,739.7469 1045.7176,741.3958 1046.112,743.0487 C1046.5065,744.7021 1046.8794,746.3619 1047.234,748.0245 C1047.5885,749.6867 1047.9202,751.3542 1048.2393,753.0229 C1048.5581,754.6906 1048.855,756.3624 1049.1475,758.0339 C1049.4398,759.704 1049.716,761.3766 1049.994,763.0476 C1050.2717,764.7168 1050.5392,766.387 1050.8146,768.0544 C1051.0897,769.7193 1051.3606,771.384 1051.6456,773.0445 C1051.93,774.7019 1052.2163,776.3579 1052.5228,778.0081 C1052.8287,779.6549 1053.1424,781.2989 1053.4824,782.9354 C1053.8217,784.5685 1054.1749,786.1975 1054.5603,787.8168 C1054.9451,789.4332 1055.3499,791.0439 1055.7927,792.6425 C1056.235,794.2392 1056.7166,795.8165 1057.2155,797.4027 C1057.7186,799.0023 1058.2718,800.6009 1058.8,802.2" stroke="#f00" stroke-width="3.4" fill="none" stroke-linejoin="round" stroke-linecap="round"/>
<path d="M1043.4947,733.206 C1043.9748,734.8314 1044.4313,736.466 1044.8674,738.1058 C1045.3038,739.7469 1045.7176,741.3958 1046.112,743.0487 C1046.5065,744.7021 1046.8794,746.3619 1047.234,748.0245 C1047.5885,749.6867 1047.9202,751.3542 1048.2393,753.0229 C1048.5581,754.6906 1048.855,756.3624 1049.1475,758.0339 C1049.4398,759.704 1049.716,761.3766 1049.994,763.0476 C1050.2717,764.7168 1050.5392,766.387 1050.8146,768.0544 C1051.0897,769.7193 1051.3606,771.384 1051.6456,773.0445 C1051.93,774.7019 1052.2163,776.3579 1052.5228,778.0081 C1052.8287,779.6549 1053.1424,781.2989 1053.4824,782.9354 C1053.8217,784.5685 1054.1749,786.1975 1054.5603,787.8168 C1054.9451,789.4332 1055.3499,791.0439 1055.7927,792.6425 C1056.235,794.2392 1056.7166,795.8165 1057.2155,797.4027 C1057.7186,799.0023 1058.2718,800.6009 1058.8,802.2" stroke="#f00" stroke-width="4.3" fill="none" stroke-linecap="round" stroke-linejoin="round"/>
<path d="M1054.5,786 L1058.8,801.5" stroke="#f00" stroke-width="6.5" stroke-linecap="round"/>
<g stroke="#f00" stroke-width="3.3" fill="none"><circle cx="168.1" cy="173.75" r="5.9"/><circle cx="180.6" cy="216.5" r="5.9"/><circle cx="193.1" cy="248.7" r="5.9"/><circle cx="213" cy="271.2" r="5.9"/><circle cx="240" cy="291.2" r="5.9"/><circle cx="267.5" cy="311.2" r="5.9"/><circle cx="297" cy="331.2" r="5.9"/><circle cx="324.5" cy="346.2" r="5.9"/><circle cx="352" cy="366.2" r="5.9"/><circle cx="379.5" cy="378.8" r="5.9"/><circle cx="404.7" cy="401.2" r="5.9"/><circle cx="437.2" cy="410" r="5.9"/><circle cx="464" cy="433" r="5.9"/><circle cx="489" cy="445" r="5.9"/><circle cx="516.2" cy="455" r="5.9"/><circle cx="546.2" cy="472.5" r="5.9"/><circle cx="571" cy="482.5" r="5.9"/><circle cx="604" cy="490.4" r="5.9"/><circle cx="628.5" cy="498.8" r="5.9"/><circle cx="661" cy="510" r="5.9"/><circle cx="685" cy="520" r="5.9"/><circle cx="713.2" cy="535" r="5.9"/><circle cx="742.7" cy="546.5" r="5.9"/><circle cx="767.5" cy="552.5" r="5.9"/><circle cx="797.5" cy="565" r="5.9"/><circle cx="824.9" cy="577.4" r="5.9"/><circle cx="852.3" cy="585" r="5.9"/><circle cx="881.8" cy="598" r="5.9"/><circle cx="910.2" cy="609.3" r="5.9"/><circle cx="937.6" cy="627.1" r="5.9"/><circle cx="967.1" cy="644.9" r="5.9"/><circle cx="989.4" cy="665.2" r="5.9"/><circle cx="1019.5" cy="684.2" r="5.9"/><circle cx="1039.8" cy="714" r="5.9"/><circle cx="1064" cy="747" r="5.9"/><circle cx="1073.8" cy="776.9" r="5.9"/><circle cx="1088.9" cy="833.9" r="5.9"/></g>
<rect x="720.7" y="37.4" width="510" height="286" fill="#fff" stroke="#4d4d4d" stroke-width="2.8"/>
<path d="M739.7,76H840.8" stroke="#000" stroke-width="3.4" stroke-linecap="round"/>
<path d="M782.4,135.9h14.2v14.2h-14.2z" stroke="#000" stroke-width="3.4" fill="none"/>
<path d="M739.7,212.5H840.8" stroke="#f00" stroke-width="3.4" stroke-linecap="round"/>
<circle cx="789.5" cy="281" r="5.9" stroke="#f00" stroke-width="3.3" fill="none"/>
<text transform="matrix(0.5333 0 0 0.5101 83.2333 38.3)" font-size="100" fill="#000" stroke="#fff" stroke-width="1.15">4.2</text>
<text transform="matrix(0.4922 0 0 0.5101 128.6157 155.4)" font-size="100" fill="#000" stroke="#fff" stroke-width="1.1972">4</text>
<text transform="matrix(0.5374 0 0 0.5101 82.1504 269.5)" font-size="100" fill="#000" stroke="#fff" stroke-width="1.1455">3.8</text>
<text transform="matrix(0.5374 0 0 0.5101 82.1504 387)" font-size="100" fill="#000" stroke="#fff" stroke-width="1.1455">3.6</text>
<text transform="matrix(0.5333 0 0 0.5101 82.1667 503.2)" font-size="100" fill="#000" stroke="#fff" stroke-width="1.15">3.4</text>
<text transform="matrix(0.5415 0 0 0.5101 82.1338 620.8)" font-size="100" fill="#000" stroke="#fff" stroke-width="1.141">3.2</text>
<text transform="matrix(0.5468 0 0 0.5101 126.8128 738)" font-size="100" fill="#000" stroke="#fff" stroke-width="1.1353">3</text>
<text transform="matrix(0.5415 0 0 0.5101 81.5923 857.4)" font-size="100" fill="#000" stroke="#fff" stroke-width="1.141">2.8</text>
<text transform="matrix(0.5375 0 0 0.5109 151.85 895.25)" font-size="100" fill="#000" stroke="#fff" stroke-width="1.1446">0</text>
<text transform="matrix(0.5458 0 0 0.5109 342.8168 895.25)" font-size="100" fill="#000" stroke="#fff" stroke-width="1.1356">0.5</text>
<text transform="matrix(0.5377 0 0 0.5109 581.8283 895.25)" font-size="100" fill="#000" stroke="#fff" stroke-width="1.1445">1</text><g transform="matrix(0.5377 0 0 0.5109 581.8283 895.25)" fill="#fff"><rect x="6.8359" y="-11.2305" width="19.0605" height="15.2305"/><rect x="33.2344" y="-11.2305" width="18.2793" height="15.2305"/></g>
<text transform="matrix(0.524 0 0 0.5109 775.9595 895.25)" font-size="100" fill="#000" stroke="#fff" stroke-width="1.1596">1.5</text><g transform="matrix(0.524 0 0 0.5109 775.9595 895.25)" fill="#fff"><rect x="6.8359" y="-11.2305" width="19.0605" height="15.2305"/><rect x="33.2344" y="-11.2305" width="18.2793" height="15.2305"/></g>
<text transform="matrix(0.5848 0 0 0.5109 1009.0761 895.25)" font-size="100" fill="#000" stroke="#fff" stroke-width="1.0952">2</text>
<text transform="matrix(0.5492 0 0 0.5109 1203.2538 895.25)" font-size="100" fill="#000" stroke="#fff" stroke-width="1.132">2.5</text>
<text transform="matrix(0.5231 0 0 0.5478 850.868 95.4)" font-size="100" fill="#000" stroke="#fff" stroke-width="1.1205">1C: Model</text><g transform="matrix(0.5231 0 0 0.5478 850.868 95.4)" fill="#fff"><rect x="6.8359" y="-11.2305" width="19.0605" height="15.2305"/><rect x="33.2344" y="-11.2305" width="18.2793" height="15.2305"/></g>
<text transform="matrix(0.5277 0 0 0.5522 850.8241 165.6)" font-size="100" fill="#000" stroke="#fff" stroke-width="1.1113">1C: Experiment</text><g transform="matrix(0.5277 0 0 0.5522 850.8241 165.6)" fill="#fff"><rect x="6.8359" y="-11.2305" width="19.0605" height="15.2305"/><rect x="33.2344" y="-11.2305" width="18.2793" height="15.2305"/></g>
<text transform="matrix(0.5278 0 0 0.5478 848.789 235.4)" font-size="100" fill="#000" stroke="#fff" stroke-width="1.1157">3C: Model</text>
<text transform="matrix(0.5307 0 0 0.5522 848.7774 305.4)" font-size="100" fill="#000" stroke="#fff" stroke-width="1.1082">3C: Experiment</text>
<text transform="matrix(0.538 0 0 0.5449 249.0959 681)" font-size="100" fill="#000" stroke="#fff" stroke-width="1.1081">Experimental Results:</text>
<text transform="matrix(0.5402 0 0 0.5304 227.6697 740.4)" font-size="100" fill="#000" stroke="#fff" stroke-width="1.1209">Ji et al. (2013) <tspan font-style="italic">JES</tspan> A636</text><g transform="matrix(0.5402 0 0 0.5304 227.6697 740.4)" fill="#fff"><rect x="495.9453" y="-11.2305" width="19.0605" height="15.2305"/><rect x="522.3438" y="-11.2305" width="18.2793" height="15.2305"/></g>
<text transform="matrix(0.6817 0 0 0.7 494.3916 964)" font-size="100" fill="#000" stroke="#fff" stroke-width="0.8685">Capacity (Ah)</text>
<text transform="translate(54.5 596.183) rotate(-90) scale(0.683 0.7174)" font-size="100" fill="#000" stroke="#fff" stroke-width="0.8569">Voltage (V)</text>
</g>
</svg>
</body></html>
